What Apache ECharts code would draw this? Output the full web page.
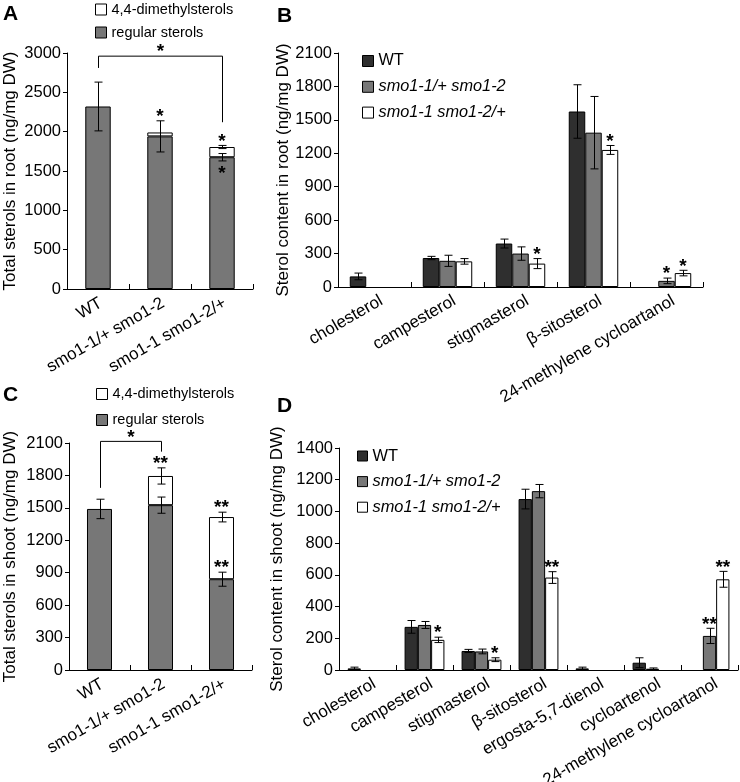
<!DOCTYPE html>
<html><head><meta charset="utf-8">
<script src="https://cdn.jsdelivr.net/npm/echarts@6/dist/echarts.min.js"></script>
<style>html,body{margin:0;padding:0;background:#fff}#c{width:740px;height:782px}</style>
</head><body><div id="c"></div>
<script>
// ---------------- DATA ----------------
const genotypes = ['WT', 'smo1-1/+ smo1-2', 'smo1-1 smo1-2/+'];
const regularName = 'regular sterols';
const dimethylName = '4,4-dimethylsterols';

// Panel A: total sterols in root
const rootRegular    = [2320, 1940, 1675];
const rootRegularErr = [310, 198, 47];
const rootDimethyl   = [0, 50, 130];
const rootTotalErr   = [0, 0, 20];
const yTicksA = [0, 3000, 500];

// Panel C: total sterols in shoot
const shootRegular    = [1490, 1525, 840];
const shootRegularErr = [90, 75, 65];
const shootDimethyl   = [0, 270, 575];
const shootTotalErr   = [0, 75, 45];
const yTicksC = [0, 2100, 300];

// Panel B: sterol content in root
const rootSterols = ['cholesterol', 'campesterol', 'stigmasterol', 'β-sitosterol', '24-methylene cycloartanol'];
const rootWT      = [95, 260, 390, 1575, 0];
const rootWTErr   = [30, 15, 40, 240, 0];
const rootSmoA    = [0, 235, 300, 1385, 55];
const rootSmoAErr = [0, 50, 60, 325, 25];
const rootSmoB    = [0, 230, 210, 1230, 125];
const rootSmoBErr = [0, 25, 45, 40, 25];
const yTicksB = [0, 2100, 300];

// Panel D: sterol content in shoot
const shootSterols = ['cholesterol', 'campesterol', 'stigmasterol', 'β-sitosterol', 'ergosta-5,7-dienol', 'cycloartenol', '24-methylene cycloartanol'];
const shootWT      = [10, 272, 120, 1078, 10, 46, 0];
const shootWTErr   = [8, 40, 10, 62, 8, 31, 0];
const shootSmoA    = [0, 284, 117, 1128, 0, 8, 215];
const shootSmoAErr = [0, 22, 15, 42, 0, 5, 48];
const shootSmoB    = [0, 190, 65, 583, 0, 0, 572];
const shootSmoBErr = [0, 17, 12, 37, 0, 0, 50];
const yTicksD = [0, 1400, 200];

// significance marks
const starsA = [[1, 'reg', 'above', '*'], [2, 'tot', 'above', '*'], [2, 'reg', 'below', '*']];
const starsC = [[1, 'tot', 'above', '**'], [2, 'tot', 'above', '**'], [2, 'reg', 'above', '**']];
const starsB = [[2, 2, '*'], [3, 2, '*'], [4, 1, '*'], [4, 2, '*']];
const starsD = [[1, 2, '*'], [2, 2, '*'], [3, 2, '**'], [6, 1, '**'], [6, 2, '**']];
// brackets: [fromCat, toCat, topValue, leftEndValue, rightEndValue, text]
const bracketA = [0, 2, 2960, 2810, 2120, '*'];
const bracketC = [0, 1, 2115, 1685, 2020, '*'];

// ---------------- STYLE ----------------
const FONT = '"Liberation Sans", Arial, Helvetica, sans-serif';
const STAR_FONT = 'bold 19px ' + FONT;
const C_WT = '#2f2f2f', C_MID = '#777777', C_WHITE = '#ffffff';
const GRIDS = [
  {left: 67, top: 53, width: 186, height: 236},
  {left: 338, top: 53, width: 365, height: 234},
  {left: 69, top: 443, width: 183, height: 227},
  {left: 339, top: 448, width: 399, height: 222}
];
const nz = a => a.map(v => (v === 0 ? '-' : v));

function yAxis(idx, ticks, name, gap) {
  return {
    type: 'value', gridIndex: idx, min: ticks[0], max: ticks[1], interval: ticks[2],
    name: name, nameLocation: 'middle', nameGap: gap,
    nameTextStyle: {fontSize: 17, color: '#000', fontFamily: FONT},
    axisLine: {show: true, lineStyle: {color: '#000', width: 1}},
    axisTick: {show: true, inside: false, length: 4, lineStyle: {color: '#000'}},
    axisLabel: {fontSize: 16.5, color: '#000', margin: 6, fontFamily: FONT, formatter: v => String(v)},
    splitLine: {show: false}
  };
}
function xAxis(idx, cats) {
  return {
    type: 'category', gridIndex: idx, data: cats, boundaryGap: true,
    axisLine: {show: true, lineStyle: {color: '#000', width: 1}},
    axisTick: {show: true, inside: true, length: 5, alignWithLabel: false, interval: 0, lineStyle: {color: '#000'}},
    axisLabel: {show: false},
    splitLine: {show: false}
  };
}
function labelSeries(idx, cats, dx, dy) {
  return {
    type: 'custom', xAxisIndex: idx, yAxisIndex: idx, z: 4, silent: true, clip: false,
    data: cats.map((c, i) => [i, 0]),
    renderItem: function (params, api) {
      const p = api.coord([api.value(0), 0]);
      return {type: 'text', x: p[0] + dx, y: p[1] + dy, rotation: Math.PI / 6,
        style: {text: cats[params.dataIndex], align: 'right', verticalAlign: 'middle',
          font: '17px ' + FONT, fill: '#000'}};
    }
  };
}
function bar(idx, name, data, color, width, stack) {
  return {
    type: 'bar', name: name, xAxisIndex: idx, yAxisIndex: idx, data: nz(data),
    stack: stack, barWidth: width, barGap: '0%',
    itemStyle: {color: color, borderColor: '#000', borderWidth: 1},
    emphasis: {disabled: true}, silent: true
  };
}
function errorSeries(idx, items, nBars, frac, cap) {
  return {
    type: 'custom', xAxisIndex: idx, yAxisIndex: idx, z: 5, silent: true, clip: false,
    data: items,
    renderItem: function (params, api) {
      const cat = api.value(0), v = api.value(1), e = api.value(2), k = api.value(3);
      if (!(e > 0)) return null;
      const band = api.size([1, 0])[0];
      const off = (k - (nBars - 1) / 2) * band * frac;
      const p1 = api.coord([cat, v + e]), p2 = api.coord([cat, Math.max(0, v - e)]);
      const x = Math.round(p1[0] + off) + 0.5;
      const st = {stroke: '#000', lineWidth: 1};
      return {type: 'group', children: [
        {type: 'line', shape: {x1: x, y1: p1[1], x2: x, y2: p2[1]}, style: st},
        {type: 'line', shape: {x1: x - cap, y1: p1[1], x2: x + cap, y2: p1[1]}, style: st},
        {type: 'line', shape: {x1: x - cap, y1: p2[1], x2: x + cap, y2: p2[1]}, style: st}
      ]};
    }
  };
}
function starSeries(idx, items, texts, nBars, frac) {
  return {
    type: 'custom', xAxisIndex: idx, yAxisIndex: idx, z: 6, silent: true, clip: false,
    data: items,
    renderItem: function (params, api) {
      const cat = api.value(0), anchor = api.value(1), dir = api.value(2), k = api.value(3);
      const band = api.size([1, 0])[0];
      const off = (k - (nBars - 1) / 2) * band * frac;
      const p = api.coord([cat, anchor]);
      const y = dir > 0 ? p[1] - 4 : p[1] + 13;
      return {type: 'text', style: {text: texts[params.dataIndex], x: p[0] + off, y: y,
        align: 'center', verticalAlign: 'middle', fill: '#000', font: STAR_FONT}};
    }
  };
}
function bracketSeries(idx, b) {
  return {
    type: 'custom', xAxisIndex: idx, yAxisIndex: idx, z: 6, silent: true, clip: false,
    data: [[b[0], b[1], b[2], b[3], b[4]]],
    renderItem: function (params, api) {
      const pl = api.coord([api.value(0), api.value(3)]);
      const pr = api.coord([api.value(1), api.value(4)]);
      const pt = api.coord([api.value(0), api.value(2)]);
      const xl = Math.round(pl[0]) + 0.5, xr = Math.round(pr[0]) + 0.5;
      return {type: 'group', children: [
        {type: 'polyline', shape: {points: [[xl, pl[1]], [xl, pt[1]], [xr, pt[1]], [xr, pr[1]]]},
          style: {stroke: '#000', lineWidth: 1, fill: null}},
        {type: 'text', style: {text: b[5], x: (xl + xr) / 2, y: pt[1] - 4, align: 'center',
          verticalAlign: 'middle', fill: '#000', font: STAR_FONT}}
      ]};
    }
  };
}

function stackedSeries(idx, cats, reg, regErr, dim, totErr, stars, bracket) {
  const errItems = [];
  reg.forEach((v, i) => {
    errItems.push([i, v, regErr[i], 0]);
    errItems.push([i, v + dim[i], totErr[i], 0]);
  });
  const starItems = stars.map(s => {
    const i = s[0];
    const base = s[1] === 'reg' ? reg[i] : reg[i] + dim[i];
    const e = s[1] === 'reg' ? regErr[i] : totErr[i];
    return s[2] === 'above' ? [i, base + e, 1, 0] : [i, base - e, -1, 0];
  });
  return [
    bar(idx, regularName, reg, C_MID, '41%', 's' + idx),
    bar(idx, dimethylName, dim, C_WHITE, '41%', 's' + idx),
    errorSeries(idx, errItems, 1, 0, 4),
    starSeries(idx, starItems, stars.map(s => s[3]), 1, 0),
    bracketSeries(idx, bracket),
    labelSeries(idx, cats, 3, 13)
  ];
}
function groupedSeries(idx, cats, vals, errs, stars, frac) {
  const colors = [C_WT, C_MID, C_WHITE];
  const out = vals.map((v, k) => bar(idx, genotypes[k], v, colors[k], (frac * 100) + '%'));
  const errItems = [];
  vals.forEach((v, k) => v.forEach((x, i) => errItems.push([i, x, errs[k][i], k])));
  out.push(errorSeries(idx, errItems, 3, frac, 4));
  const starItems = stars.map(s => [s[0], vals[s[1]][s[0]] + errs[s[1]][s[0]], 1, s[1]]);
  out.push(starSeries(idx, starItems, stars.map(s => s[2]), 3, frac));
  out.push(labelSeries(idx, cats, 7, 12.5));
  return out;
}

const italicFmt = n => n === 'WT' ? n : '{i|' + n + '}';
function legend(left, top, names, size, font, lh, gap, fmt) {
  return {
    left: left, top: top, orient: 'vertical', icon: 'rect', itemWidth: size, itemHeight: size,
    itemGap: gap, selectedMode: false, data: names, padding: 0,
    textStyle: {fontSize: font, color: '#000', fontFamily: FONT, lineHeight: lh,
      rich: {i: {fontSize: font, fontStyle: 'italic', fontFamily: FONT, color: '#000', lineHeight: lh}}},
    formatter: fmt || (n => n), itemStyle: {borderColor: '#000', borderWidth: 1}
  };
}
function letter(t, x, y) {
  return {type: 'text', left: x, top: y, style: {text: t, font: 'bold 21px ' + FONT, fill: '#000'}};
}

const option = {
  animation: false,
  textStyle: {fontFamily: FONT},
  grid: GRIDS.map(g => Object.assign({containLabel: false}, g)),
  xAxis: [xAxis(0, genotypes), xAxis(1, rootSterols), xAxis(2, genotypes), xAxis(3, shootSterols)],
  yAxis: [
    yAxis(0, yTicksA, 'Total sterols in root (ng/mg DW)', 48),
    yAxis(1, yTicksB, 'Sterol content in root (ng/mg DW)', 44),
    yAxis(2, yTicksC, 'Total sterols in shoot (ng/mg DW)', 50),
    yAxis(3, yTicksD, 'Sterol content in shoot (ng/mg DW)', 45)
  ],
  legend: [
    legend(95, 1.5, [dimethylName, regularName], 11, 14.5, 16, 7),
    legend(362, 52, genotypes, 11, 16.3, 18, 7.8, italicFmt),
    legend(96, 386, [dimethylName, regularName], 11, 14.5, 16, 10),
    legend(357, 447, genotypes, 10, 16.4, 18, 7.6, italicFmt)
  ],
  graphic: [letter('A', 3, 4), letter('B', 277, 6), letter('C', 3, 385), letter('D', 277, 396)],
  series: [].concat(
    stackedSeries(0, genotypes, rootRegular, rootRegularErr, rootDimethyl, rootTotalErr, starsA, bracketA),
    groupedSeries(1, rootSterols, [rootWT, rootSmoA, rootSmoB], [rootWTErr, rootSmoAErr, rootSmoBErr], starsB, 0.226),
    stackedSeries(2, genotypes, shootRegular, shootRegularErr, shootDimethyl, shootTotalErr, starsC, bracketC),
    groupedSeries(3, shootSterols, [shootWT, shootSmoA, shootSmoB], [shootWTErr, shootSmoAErr, shootSmoBErr], starsD, 0.233)
  )
};
const chart = echarts.init(document.getElementById('c'), null, {renderer: 'canvas'});
chart.setOption(option);
</script>
</body></html>
